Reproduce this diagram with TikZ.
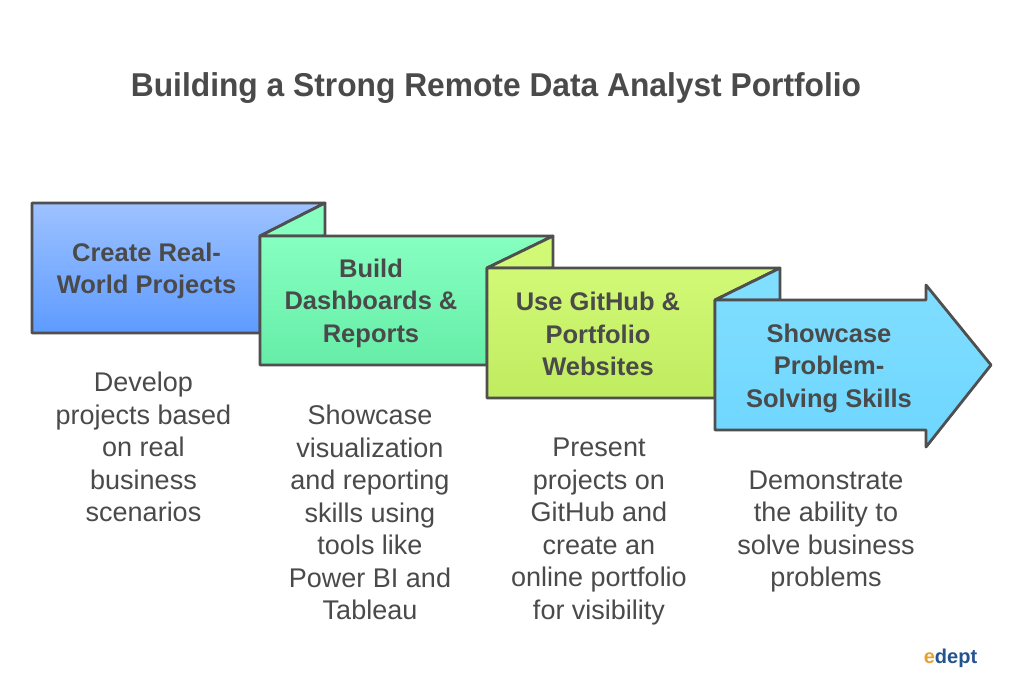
\documentclass[tikz,border=0pt]{standalone}
\usepackage{fontspec}
\setmainfont{Liberation Sans}
\newfontfamily\titlefont[FakeStretch=0.962]{Liberation Sans}
\definecolor{ink}{HTML}{4A4A4A}
\definecolor{edge}{HTML}{4F4F4F}
\definecolor{logoblue}{HTML}{24548F}
\definecolor{logoorange}{HTML}{E9A02C}
\definecolor{blueT}{HTML}{9DC2FF}
\definecolor{blueB}{HTML}{5E9BFF}
\definecolor{greenT}{HTML}{86FFC0}
\definecolor{greenB}{HTML}{66EDA8}
\definecolor{limeT}{HTML}{D2F976}
\definecolor{limeB}{HTML}{C0EC60}
\definecolor{skyT}{HTML}{80DEFF}
\definecolor{skyB}{HTML}{6ED6FF}
\tikzset{
  panel/.style={draw=edge,line width=2.8pt,line join=round},
  heading/.style={font=\bfseries\fontsize{25.5}{32.5}\selectfont,text=ink,align=center,inner sep=0pt},
  bodytext/.style={font=\fontsize{27}{32.5}\selectfont,text=ink,align=center,inner sep=0pt,anchor=north},
  titletext/.style={font=\titlefont\bfseries\fontsize{33}{38}\selectfont,text=ink,inner sep=0pt}
}
\begin{document}
\begin{tikzpicture}[x=1pt,y=-1pt]
\useasboundingbox[fill=white] (0,0) rectangle (1024,691);
\node[titletext] (title) at (496,88) {Building a Strong Remote Data Analyst Portfolio};
% panel 1
\draw[panel,top color=blueT,bottom color=blueB] (32,203) -- (325,203) -- (260,236) -- (260,333) -- (32,333) -- cycle;
\draw[panel,fill=greenT] (325,203) -- (325,236) -- (260,236) -- cycle;
% panel 2
\draw[panel,top color=greenT,bottom color=greenB] (260,236) -- (553,236) -- (487,268) -- (487,365) -- (260,365) -- cycle;
\draw[panel,fill=limeT] (553,236) -- (553,268) -- (487,268) -- cycle;
% panel 3
\draw[panel,top color=limeT,bottom color=limeB] (487,268) -- (780,268) -- (715,300) -- (715,398) -- (487,398) -- cycle;
\draw[panel,fill=skyT] (780,268) -- (780,300) -- (715,300) -- cycle;
% panel 4
\draw[panel,top color=skyT,bottom color=skyB] (715,300) -- (926,300) -- (926,285) -- (991,365) -- (926,447) -- (926,430) -- (715,430) -- cycle;
\node[heading] (h1) at (146.5,271) {Create Real-\\World Projects};
\node[heading] (h2) at (371,303) {Build\\Dashboards \&\\Reports};
\node[heading] (h3) at (598,334) {Use GitHub \&\\Portfolio\\Websites};
\node[heading] (h4) at (829,368) {Showcase\\Problem-\\Solving Skills};
\node[bodytext] (b1) at (143.5,372) {Develop\\projects based\\on real\\business\\scenarios};
\node[bodytext] (b2) at (370,405) {Showcase\\visualization\\and reporting\\skills using\\tools like\\Power BI and\\Tableau};
\node[bodytext] (b3) at (599,438) {Present\\projects on\\GitHub and\\create an\\online portfolio\\for visibility};
\node[bodytext] (b4) at (826,470.5) {Demonstrate\\the ability to\\solve business\\problems};
\node[inner sep=0pt,font=\bfseries\fontsize{20}{22}\selectfont] (logo) at (950.5,658) {\textcolor{logoorange}{e}\textcolor{logoblue}{dept}};
\end{tikzpicture}
\end{document}
